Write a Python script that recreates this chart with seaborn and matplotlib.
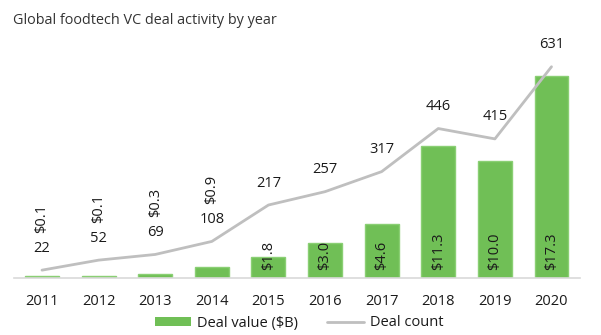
import matplotlib
matplotlib.use("Agg")
import matplotlib.pyplot as plt
from matplotlib.patches import Patch
from matplotlib.lines import Line2D
import seaborn as sns
import pandas as pd
import numpy as np

years = ["2011", "2012", "2013", "2014", "2015", "2016", "2017", "2018", "2019", "2020"]
deal_value = [0.1, 0.1, 0.3, 0.9, 1.8, 3.0, 4.6, 11.3, 10.0, 17.3]
deal_count = [22, 52, 69, 108, 217, 257, 317, 446, 415, 631]

df = pd.DataFrame({"year": years, "value": deal_value, "count": deal_count})
df["pos"] = np.arange(len(df))

sns.set_theme(style="white")
plt.rcParams["font.family"] = ["Open Sans", "DejaVu Sans"]

W, H = 601, 335
fig = plt.figure(figsize=(W / 100, H / 100), dpi=100)
left_px, right_px = 13.7, 579.8
bottom_px, top_px = 277.5, 40
ax = fig.add_axes([left_px / W, 1 - bottom_px / H, (right_px - left_px) / W, (bottom_px - top_px) / H])

green = "#70BF56"
edge = "#8ACF74"
gray = "#BFBFBF"
txt = "#1a1a1a"

sns.barplot(data=df, x="year", y="value", color=green, width=0.6, ax=ax, saturation=1,
            edgecolor=edge, linewidth=1.0)
ax.set_ylim(0, 237.5 / 11.66)
ax.set_xlim(-0.5, len(years) - 0.5)

ax2 = ax.twinx()
sns.lineplot(data=df, x="pos", y="count", color=gray, linewidth=2.0, ax=ax2)
ax2.set_ylim(0, 237.5 / 0.334)
ax2.set_xlim(-0.5, len(years) - 0.5)

for a in (ax, ax2):
    for s in ("top", "left", "right"):
        a.spines[s].set_visible(False)
    a.set_ylabel("")
    a.set_xlabel("")
    a.set_yticks([])
ax.spines["bottom"].set_color("#D9D9D9")
ax.spines["bottom"].set_linewidth(1.2)
ax2.spines["bottom"].set_visible(False)
ax.tick_params(axis="x", length=0, pad=12, labelsize=10.5, labelcolor=txt)

px = 0.72  # points per pixel
for i, (v, c) in enumerate(zip(deal_value, deal_count)):
    ax2.annotate(f"{c}", xy=(i, c), xytext=(0, 22 * px), textcoords="offset points",
                 ha="center", va="center", fontsize=10.5, color=txt)
    if v < 1:
        ax2.annotate(f"${v:.1f}", xy=(i, c), xytext=(0, 52 * px), textcoords="offset points",
                     ha="center", va="center", rotation=90, fontsize=10.5, color=txt)
    else:
        ax.annotate(f"${v:.1f}", xy=(i, 0), xytext=(0, 7.5 * px), textcoords="offset points",
                    ha="center", va="bottom", rotation=90, fontsize=10.5, color=txt)

fig.text(13 / W, 1 - 20 / H, "Global foodtech VC deal activity by year", ha="left", va="center",
         fontsize=10.4, color="#333333")

handles = [Patch(facecolor=green, edgecolor="none"), Line2D([0], [0], color=gray, linewidth=2.0)]
fig.legend(handles, ["Deal value ($B)", "Deal count"], loc="center", bbox_to_anchor=(299 / W, 1 - 323 / H),
           ncol=2, frameon=False, fontsize=10.5, handlelength=2.5, handleheight=0.55, columnspacing=2.0,
           handletextpad=0.4, labelcolor=txt)

fig.savefig("out.png", dpi=100)
